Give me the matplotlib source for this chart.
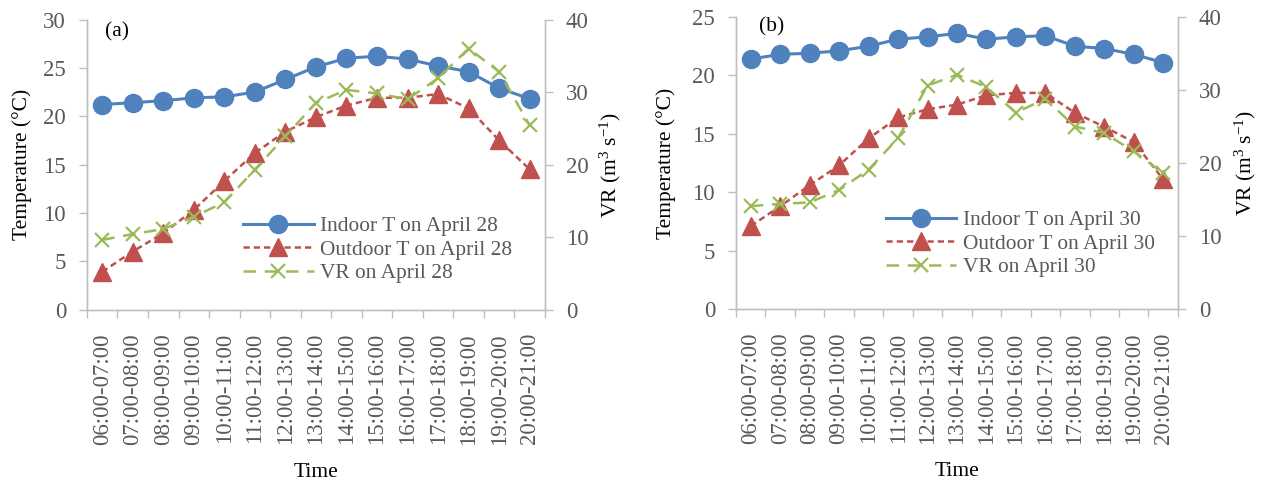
import matplotlib
matplotlib.use("Agg")
import matplotlib.pyplot as plt
from matplotlib.ticker import FixedLocator

plt.rcParams['font.family'] = ['Liberation Serif', 'DejaVu Serif']
plt.rcParams['mathtext.default'] = 'regular'

times = ["06:00-07:00", "07:00-08:00", "08:00-09:00", "09:00-10:00", "10:00-11:00",
         "11:00-12:00", "12:00-13:00", "13:00-14:00", "14:00-15:00", "15:00-16:00",
         "16:00-17:00", "17:00-18:00", "18:00-19:00", "19:00-20:00", "20:00-21:00"]

# April 28
indoor_28 = [21.2, 21.4, 21.6, 21.9, 22.0, 22.5, 23.8, 25.1, 26.0, 26.2, 25.9, 25.2, 24.6, 22.9, 21.8]
outdoor_28 = [3.9, 6.0, 7.9, 10.3, 13.3, 16.2, 18.4, 19.9, 21.1, 21.9, 21.9, 22.3, 20.8, 17.5, 14.5]
vr_28 = [9.6, 10.4, 11.1, 12.8, 14.8, 19.3, 23.9, 28.5, 30.3, 29.8, 29.0, 31.9, 36.0, 32.8, 25.4]

# April 30
indoor_30 = [21.4, 21.8, 21.9, 22.1, 22.5, 23.1, 23.3, 23.6, 23.1, 23.3, 23.4, 22.5, 22.3, 21.8, 21.1]
outdoor_30 = [7.1, 8.8, 10.6, 12.3, 14.6, 16.4, 17.1, 17.5, 18.3, 18.5, 18.5, 16.8, 15.6, 14.3, 11.1]
vr_30 = [14.1, 14.4, 14.6, 16.3, 19.1, 23.4, 30.6, 32.1, 30.4, 26.9, 28.8, 25.0, 24.1, 21.6, 18.6]

BLUE = '#4F81BD'
RED = '#C0504D'
GREEN = '#9BBB59'
GRID = '#BFBFBF'
TXT = '#595959'


def style_axis(ax):
    for side in ['top', 'left', 'right', 'bottom']:
        ax.spines[side].set_color(GRID)
        ax.spines[side].set_linewidth(1.0)
    ax.spines['top'].set_visible(False)


def draw_panel(ax, indoor, outdoor, vr, day, tmax, tag, leg_xy, ylab_x, vrlab_x, tag_xy):
    x = list(range(len(times)))
    ax2 = ax.twinx()

    l1, = ax.plot(x, indoor, color=BLUE, lw=2.2, marker='o', ms=13,
                  label='Indoor T on ' + day)
    l2, = ax.plot(x, outdoor, color=RED, lw=1.8, ls=(0, (2.5, 1.6)), marker='^', ms=13,
                  label='Outdoor T on ' + day)
    l3, = ax2.plot(x, vr, color=GREEN, lw=1.8, ls=(0, (5, 3.5)), marker='x', ms=10,
                   mew=1.6, label='VR on ' + day)

    ax.set_xlim(-0.5, len(times) - 0.5)
    ax.set_ylim(0, tmax)
    ax.set_yticks(range(0, tmax + 1, 5))
    ax2.set_ylim(0, 40)
    ax2.set_yticks(range(0, 41, 10))

    ax.set_xticks(x)
    ax.set_xticklabels(times, rotation=90)
    ax.xaxis.set_minor_locator(FixedLocator([i - 0.5 for i in range(len(times) + 1)]))
    ax.tick_params(axis='x', which='major', length=0, pad=17, labelsize=16.5, labelcolor=TXT)
    ax.tick_params(axis='x', which='minor', length=6, width=1.0, color=GRID)
    ax.tick_params(axis='y', length=6, width=1.0, color=GRID, pad=9, labelsize=16.5, labelcolor=TXT)
    ax2.tick_params(axis='y', length=6, width=1.0, color=GRID, pad=9, labelsize=16.5, labelcolor=TXT)

    style_axis(ax)
    style_axis(ax2)

    ax.set_xlabel('Time', fontsize=15.5, labelpad=13)
    ax.set_ylabel('Temperature (°C)', fontsize=15.5)
    ax.yaxis.set_label_coords(ylab_x, 0.5)
    ax2.set_ylabel('VR (m$^{3}$ s$^{-1}$)', fontsize=15.5, rotation=90)
    ax2.yaxis.set_label_coords(vrlab_x, 0.5)

    ax.text(tag_xy[0], tag_xy[1], tag, transform=ax.transAxes, fontsize=15.5,
            ha='left', va='center')

    ax2.legend(handles=[l1, l2, l3], loc='upper left', bbox_to_anchor=leg_xy,
               frameon=False, fontsize=15.4, handlelength=3.3, handletextpad=0.3,
               labelspacing=0.17, borderpad=0, borderaxespad=0, labelcolor=TXT)


fig = plt.figure(figsize=(12.62, 4.83), dpi=100)
ax_a = fig.add_axes([0.0689, 0.3592, 0.3629, 0.6004])
ax_b = fig.add_axes([0.5832, 0.3602, 0.3502, 0.6046])

draw_panel(ax_a, indoor_28, outdoor_28, vr_28, 'April 28', 30, '(a)',
           (0.341, 0.322), -0.12, 1.116, (0.039, 0.958))
draw_panel(ax_b, indoor_30, outdoor_30, vr_30, 'April 30', 25, '(b)',
           (0.339, 0.339), -0.136, 1.124, (0.052, 0.967))

fig.savefig('out.png', dpi=100)
